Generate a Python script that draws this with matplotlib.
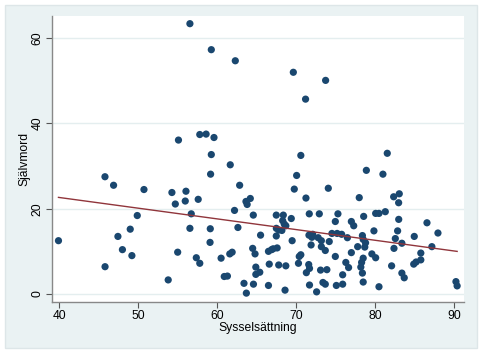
import numpy as np
import matplotlib.pyplot as plt
from matplotlib.patches import Rectangle

# Data (employment rate vs suicide rate)
sysselsattning = [56.55, 59.26, 62.3, 69.65, 73.74, 71.2, 57.8, 58.6, 59.6, 55.1,
                  59.26, 70.6, 81.55, 61.66, 59.17, 70.07, 78.9, 81.0, 45.79, 46.88,
                  62.85, 50.73, 69.77, 74.08, 54.27, 56.05, 83.07, 82.36, 57.6, 71.25,
                  78.0, 64.2, 63.65, 63.8, 55.96, 54.7, 82.99, 62.2, 81.3, 80.08,
                  80.5, 75.3, 71.67, 72.94, 56.72, 49.88, 64.58, 67.49, 68.38, 78.56,
                  69.39, 83.0, 68.3, 74.97, 77.0, 68.5, 86.58, 68.7, 77.3, 56.55,
                  62.63, 59.13, 48.99, 67.5, 67.8, 68.2, 82.86, 79.86, 87.97, 74.54,
                  75.2, 75.77, 71.63, 72.1, 78.4, 76.5, 47.43, 65.5, 67.49, 72.0,
                  72.8, 84.97, 82.57, 78.5, 39.9, 69.5, 73.2, 74.2, 83.4, 78.8,
                  59.1, 71.9, 73.2, 77.8, 87.2, 78.7, 73.7, 64.5, 67.6, 67.1,
                  66.9, 66.5, 82.4, 48.0, 55.0, 61.9, 61.6, 64.8, 77.0, 79.6,
                  85.8, 49.2, 70.6, 70.4, 74.97, 80.08, 57.36, 60.5, 78.5, 85.8,
                  85.2, 84.9, 76.3, 78.3, 57.8, 66.6, 70.3, 71.6, 67.8, 68.7,
                  82.1, 45.8, 64.9, 76.65, 78.2, 71.7, 73.1, 73.9, 71.3, 64.9,
                  65.4, 78.4, 83.4, 75.9, 60.9, 61.3, 83.7, 53.8, 78.5, 63.4,
                  64.6, 73.4, 73.7, 71.7, 75.1, 75.9, 66.5, 80.5, 68.6, 72.6,
                  63.7, 90.25, 90.4]
sjalvmord = [63.4, 57.3, 54.7, 52.0, 50.1, 45.7, 37.4, 37.5, 36.7, 36.1,
             32.7, 32.5, 33.0, 30.3, 28.1, 27.8, 29.0, 28.1, 27.5, 25.5,
             25.5, 24.5, 24.6, 24.8, 23.8, 24.1, 23.5, 22.8, 22.2, 22.5,
             22.6, 22.4, 21.7, 21.0, 21.8, 21.1, 21.4, 19.6, 19.3, 18.9,
             18.9, 18.8, 18.8, 18.8, 18.8, 18.4, 18.5, 18.5, 18.5, 18.2,
             17.7, 17.5, 17.2, 17.0, 17.0, 16.4, 16.7, 16.0, 16.0, 15.4,
             15.6, 15.3, 15.2, 15.4, 15.0, 14.9, 14.8, 14.8, 14.3, 14.2,
             14.2, 14.0, 13.8, 14.0, 13.7, 13.2, 13.5, 13.8, 13.6, 13.3,
             13.2, 13.5, 13.0, 12.8, 12.5, 12.5, 12.5, 12.3, 11.9, 12.0,
             12.1, 11.5, 11.1, 11.1, 11.1, 11.0, 10.2, 10.7, 10.8, 10.6,
             10.4, 10.0, 10.7, 10.4, 9.8, 9.8, 9.4, 9.4, 9.7, 9.4,
             9.6, 9.0, 9.2, 8.8, 8.8, 8.5, 8.5, 8.4, 8.4, 8.0,
             7.5, 7.0, 7.4, 7.4, 7.2, 7.0, 7.2, 6.9, 6.8, 6.6,
             6.6, 6.4, 6.3, 6.2, 6.3, 6.0, 5.6, 5.7, 5.0, 4.6,
             5.1, 4.9, 4.9, 4.5, 4.1, 4.2, 3.8, 3.3, 2.8, 2.5,
             2.3, 2.7, 2.3, 2.1, 2.0, 2.3, 2.0, 1.7, 0.9, 0.5,
             0.2, 2.9, 1.9]
x_ticks = [40, 50, 60, 70, 80, 90]
y_ticks = [0, 20, 40, 60]

x = np.array(sysselsattning)
y = np.array(sjalvmord)

# linear fit (like Stata's lfit)
slope, intercept = np.polyfit(x, y, 1)
xfit = np.array([x.min(), x.max()])
yfit = intercept + slope * xfit

plt.rcParams['font.family'] = ['Liberation Sans', 'DejaVu Sans']

fig = plt.figure(figsize=(4.81, 3.53), dpi=100)
fig.patch.set_facecolor('white')
# Stata-like light blue graph region with thin frame
fig.patches.append(Rectangle((5 / 481, 5 / 353), 472 / 481, 343 / 353,
                             transform=fig.transFigure, facecolor='#eaf2f3',
                             edgecolor='#dde6e8', lw=1, zorder=-10))

ax = fig.add_axes([52 / 481, 1 - 302 / 353, 412 / 481, 286 / 353])
ax.set_facecolor('white')

ax.scatter(x, y, s=27, color='#1a476f', edgecolors='none', zorder=3)
ax.plot(xfit, yfit, color='#90353b', lw=1.0, zorder=4)

ax.set_xlim(39.08, 91.27)
ax.set_ylim(-1.88, 65.2)
ax.set_xticks(x_ticks)
ax.set_yticks(y_ticks)
ax.set_yticklabels([str(t) for t in y_ticks], rotation=90, va='center')
ax.tick_params(axis='both', labelsize=8.7, length=4, width=0.8,
               color='#555555', pad=2)

for yt in y_ticks:
    ax.axhline(yt, color='#e4eeef', lw=1.0, zorder=1)

for side in ['top', 'right']:
    ax.spines[side].set_visible(False)
for side in ['left', 'bottom']:
    ax.spines[side].set_color('#888888')
    ax.spines[side].set_linewidth(1.0)

ax.set_xlabel('Sysselsättning', fontsize=8.7, labelpad=0)
ax.set_ylabel('Självmord', fontsize=8.7, labelpad=1)

fig.savefig('out.png', dpi=100)
